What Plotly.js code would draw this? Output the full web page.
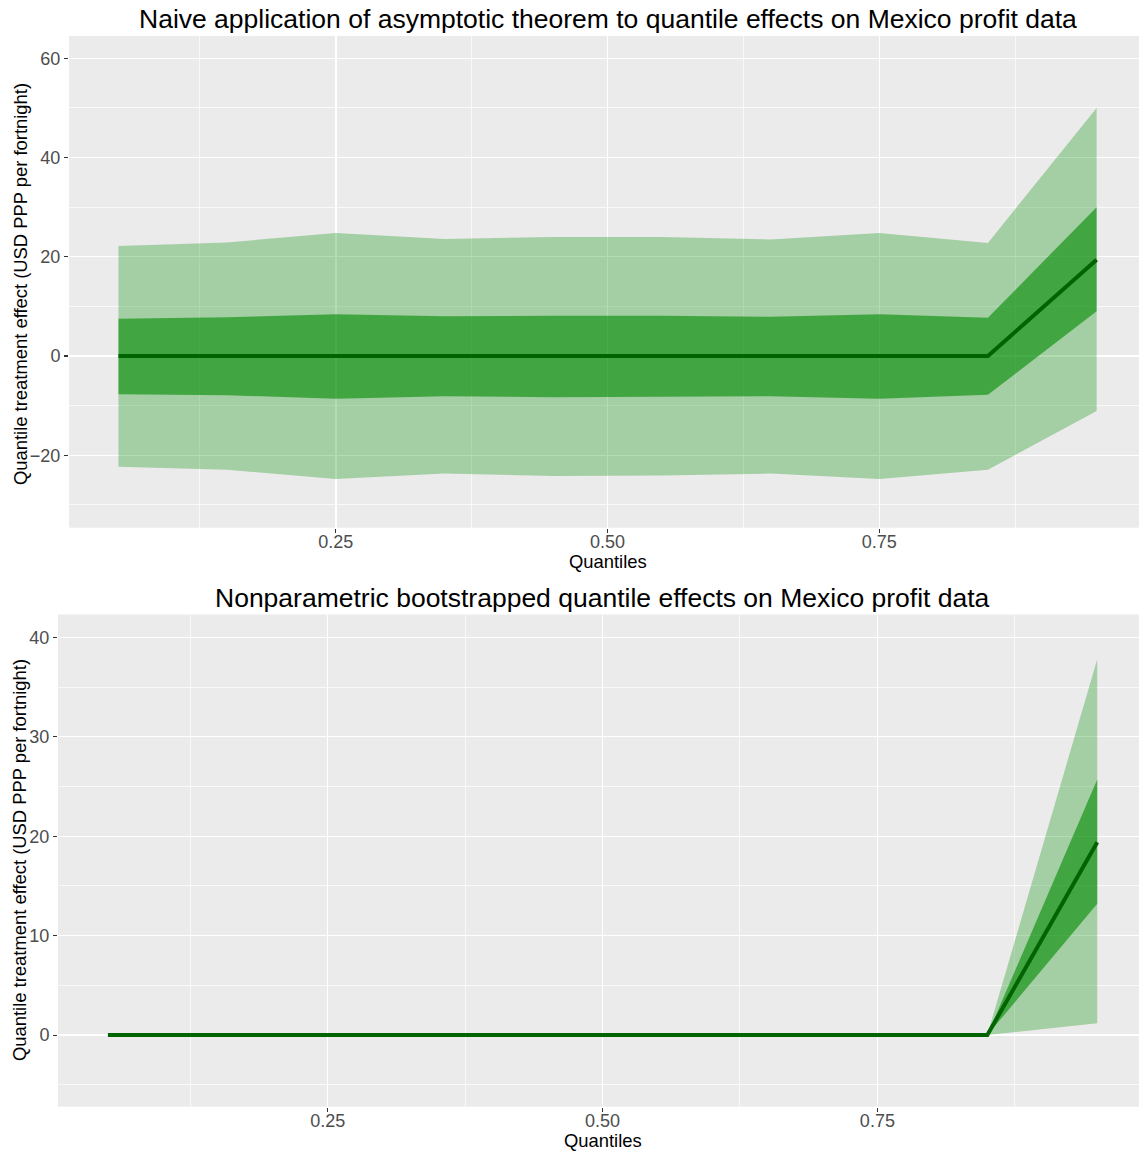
<!DOCTYPE html>
<html>
<head>
<meta charset="utf-8">
<script src="https://cdn.plot.ly/plotly-3.0.1.min.js"></script>
<style>html,body{margin:0;padding:0;background:#fff;}#chart{width:1139px;height:1151px;}</style>
</head>
<body>
<div id="chart"></div>
<script>
// ---- data ----
const quantiles = [0.05, 0.15, 0.25, 0.35, 0.45, 0.55, 0.65, 0.75, 0.85, 0.95];

// Top panel: naive asymptotic
const asymMedian     = [0, 0, 0, 0, 0, 0, 0, 0, 0, 19.4];
const asymInnerUpper = [7.5, 7.8, 8.4, 8.0, 8.1, 8.1, 7.9, 8.4, 7.7, 30.0];
const asymInnerLower = [-7.7, -7.9, -8.6, -8.1, -8.3, -8.2, -8.1, -8.6, -7.8, 9.0];
const asymOuterUpper = [22.2, 22.9, 24.8, 23.6, 24.0, 24.0, 23.5, 24.8, 22.8, 50.0];
const asymOuterLower = [-22.3, -22.9, -24.8, -23.7, -24.2, -24.1, -23.7, -24.8, -22.9, -11.1];

// Bottom panel: nonparametric bootstrap
const bootMedian     = [0, 0, 0, 0, 0, 0, 0, 0, 0, 19.4];
const bootInnerUpper = [0, 0, 0, 0, 0, 0, 0, 0, 0, 25.7];
const bootInnerLower = [0, 0, 0, 0, 0, 0, 0, 0, 0, 13.2];
const bootOuterUpper = [0, 0, 0, 0, 0, 0, 0, 0, 0, 37.8];
const bootOuterLower = [0, 0, 0, 0, 0, 0, 0, 0, 0, 1.2];

const xTickVals = [0.25, 0.5, 0.75];
const xTickText = ["0.25", "0.50", "0.75"];
const topTitle = "Naive application of asymptotic theorem to quantile effects on Mexico profit data";
const bottomTitle = "Nonparametric bootstrapped quantile effects on Mexico profit data";
const xTitle = "Quantiles";
const yTitle = "Quantile treatment effect (USD PPP per fortnight)";

// ---- styles ----
const FONT = "Liberation Sans, Arial, Helvetica, sans-serif";
const outerFill = "rgba(0,139,0,0.3)";
const innerFill = "rgba(0,139,0,0.6)";
const lineColor = "#006400";

function bandTraces(lower, upper, fill, xa, ya) {
  return [
    {x: quantiles, y: lower, type: "scatter", mode: "lines", line: {width: 0, color: "rgba(0,0,0,0)"},
     xaxis: xa, yaxis: ya, hoverinfo: "skip", showlegend: false},
    {x: quantiles, y: upper, type: "scatter", mode: "lines", line: {width: 0, color: "rgba(0,0,0,0)"},
     fill: "tonexty", fillcolor: fill, xaxis: xa, yaxis: ya, hoverinfo: "skip", showlegend: false}
  ];
}
function lineTrace(y, xa, ya) {
  return {x: quantiles, y: y, type: "scatter", mode: "lines",
          line: {width: 4, color: lineColor}, xaxis: xa, yaxis: ya, showlegend: false};
}

const traces = [].concat(
  bandTraces(asymOuterLower, asymOuterUpper, outerFill, "x", "y"),
  bandTraces(asymInnerLower, asymInnerUpper, innerFill, "x", "y"),
  [lineTrace(asymMedian, "x", "y")],
  bandTraces(bootOuterLower, bootOuterUpper, outerFill, "x2", "y2"),
  bandTraces(bootInnerLower, bootInnerUpper, innerFill, "x2", "y2"),
  [lineTrace(bootMedian, "x2", "y2")]
);

const W = 1139, H = 1151;
function xAxis(domainLeftPx, range, anchor) {
  return {
    domain: [domainLeftPx / W, 1], range: range, anchor: anchor,
    tickmode: "array", tickvals: xTickVals, ticktext: xTickText,
    ticks: "outside", ticklen: 4, tickwidth: 1.1, tickcolor: "#333333",
    ticklabelstandoff: -6,
    tickfont: {family: FONT, size: 18, color: "#4D4D4D"},
    showgrid: true, gridcolor: "#FFFFFF", gridwidth: 1.4,
    minor: {tickmode: "array", tickvals: [0.125, 0.375, 0.625, 0.875], showgrid: true, gridcolor: "#FFFFFF", gridwidth: 0.7, ticks: ""},
    zeroline: false, showline: false, fixedrange: true
  };
}
function yAxis(topPx, bottomPx, range, dtick, minorVals, anchor) {
  return {
    domain: [1 - bottomPx / H, 1 - topPx / H], range: range, anchor: anchor,
    tickmode: "linear", tick0: 0, dtick: dtick,
    ticks: "outside", ticklen: 4, tickwidth: 1.1, tickcolor: "#333333",
    tickfont: {family: FONT, size: 18, color: "#4D4D4D"},
    showgrid: true, gridcolor: "#FFFFFF", gridwidth: 1.4,
    minor: {tickmode: "array", tickvals: minorVals, showgrid: true, gridcolor: "#FFFFFF", gridwidth: 0.7, ticks: ""},
    zeroline: false, showline: false, fixedrange: true
  };
}

const layout = {
  width: W, height: H,
  margin: {l: 0, r: 0, t: 0, b: 0, pad: 0},
  paper_bgcolor: "#FFFFFF", plot_bgcolor: "#EBEBEB",
  font: {family: FONT, color: "#000000"},
  showlegend: false,
  xaxis: xAxis(69, [0.0045, 0.989], "y"),
  yaxis: yAxis(36, 527.7, [-34.6, 64.5], 20, [-30, -10, 10, 30, 50], "x"),
  xaxis2: xAxis(58, [0.0046, 0.988], "y2"),
  yaxis2: yAxis(614.5, 1106.7, [-7.2, 42.3], 10, [-5, 5, 15, 25, 35], "x2"),
  annotations: [
    {text: topTitle, xref: "x", x: 0.5, yref: "paper", y: 1 - 19 / H, xanchor: "center", yanchor: "middle",
     showarrow: false, font: {family: FONT, size: 26.5, color: "#000000"}},
    {text: bottomTitle, xref: "x2", x: 0.5, yref: "paper", y: 1 - 598 / H, xanchor: "center", yanchor: "middle",
     showarrow: false, font: {family: FONT, size: 26.5, color: "#000000"}},
    {text: xTitle, xref: "x", x: 0.5, yref: "paper", y: 1 - 561 / H, xanchor: "center", yanchor: "middle",
     showarrow: false, font: {family: FONT, size: 18.4, color: "#000000"}},
    {text: xTitle, xref: "x2", x: 0.5, yref: "paper", y: 1 - 1140 / H, xanchor: "center", yanchor: "middle",
     showarrow: false, font: {family: FONT, size: 18.4, color: "#000000"}},
    {text: yTitle, xref: "paper", x: 20 / W, yref: "paper", y: 1 - 284 / H, xanchor: "center", yanchor: "middle",
     textangle: -90, showarrow: false, font: {family: FONT, size: 18.4, color: "#000000"}},
    {text: yTitle, xref: "paper", x: 20 / W, yref: "paper", y: 1 - 860 / H, xanchor: "center", yanchor: "middle",
     textangle: -90, showarrow: false, font: {family: FONT, size: 18.4, color: "#000000"}}
  ]
};

Plotly.newPlot("chart", traces, layout, {displayModeBar: false, staticPlot: true});
</script>
</body>
</html>
